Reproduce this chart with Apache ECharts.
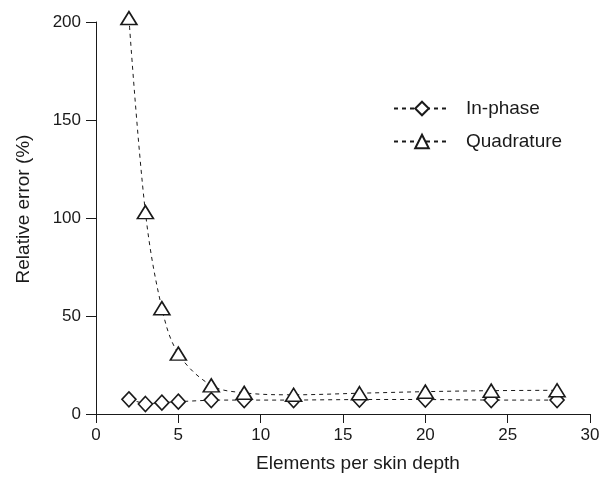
<!DOCTYPE html>
<html>
<head>
<meta charset="utf-8">
<script src="https://cdn.jsdelivr.net/npm/echarts@6/dist/echarts.min.js"></script>
<style>
  html, body { margin: 0; padding: 0; background: #fff; }
  #chart { width: 614px; height: 478px; }
</style>
</head>
<body>
<div id="chart"></div>
<script>
// elements per skin depth
var xValues = [2, 3, 4, 5, 7, 9, 12, 16, 20, 24, 28];
// relative error (%)
var inPhase = [7.5, 5.1, 5.8, 6.3, 7.1, 7.1, 7.1, 7.4, 7.4, 7.1, 7.1];
var quadrature = [202, 103, 54, 30.8, 14.6, 10.8, 9.8, 10.6, 11.4, 11.9, 12.1];

function pairs(xs, ys) {
	return xs.map(function (x, i) { return [x, ys[i]]; });
}

var ink = '#1a1a1a';
var font = 'Liberation Sans, Arial, sans-serif';

var myChart = echarts.init(document.getElementById('chart'));
myChart.setOption({
	backgroundColor: '#fff',
	animation: false,
	grid: { left: 96, right: 24, top: 22, bottom: 62 },
	legend: {
		orient: 'vertical',
		left: 388,
		top: 94,
		itemGap: 14,
		itemWidth: 56,
		itemHeight: 17,
		textStyle: { color: ink, fontSize: 19, fontFamily: font, padding: [0, 0, 0, 11] },
		data: ['In-phase', 'Quadrature']
	},
	xAxis: {
		type: 'value',
		min: 0,
		max: 30,
		interval: 5,
		name: 'Elements per skin depth',
		nameLocation: 'middle',
		nameGap: 40,
		nameTextStyle: { color: ink, fontSize: 19, fontFamily: font, padding: [0, 0, 0, 30] },
		axisLine: { lineStyle: { color: ink, width: 1 } },
		axisTick: { inside: false, length: 9, lineStyle: { color: ink } },
		axisLabel: { color: ink, fontSize: 17, fontFamily: font, margin: 13 },
		splitLine: { show: false }
	},
	yAxis: {
		type: 'value',
		min: 0,
		max: 200,
		interval: 50,
		name: 'Relative error (%)',
		nameLocation: 'middle',
		nameGap: 63,
		nameTextStyle: { color: ink, fontSize: 19, fontFamily: font, padding: [0, 0, 0, 18] },
		axisLine: { show: true, lineStyle: { color: ink, width: 1 } },
		axisTick: { show: true, length: 10, lineStyle: { color: ink } },
		axisLabel: { color: ink, fontSize: 17, fontFamily: font, margin: 15 },
		splitLine: { show: false }
	},
	series: [
		{
			name: 'In-phase',
			type: 'line',
			clip: false,
			data: pairs(xValues, inPhase),
			symbol: 'diamond',
			symbolSize: [14, 15],
			itemStyle: { color: '#fff', borderColor: ink, borderWidth: 1.6 },
			lineStyle: { color: ink, width: 1, type: [4, 4] }
		},
		{
			name: 'Quadrature',
			type: 'line',
			clip: false,
			data: pairs(xValues, quadrature),
			smooth: 0.35,
			symbol: 'triangle',
			symbolSize: [16, 13],
			itemStyle: { color: '#fff', borderColor: ink, borderWidth: 1.6 },
			lineStyle: { color: ink, width: 1, type: [4, 4] }
		}
	]
});
</script>
</body>
</html>
